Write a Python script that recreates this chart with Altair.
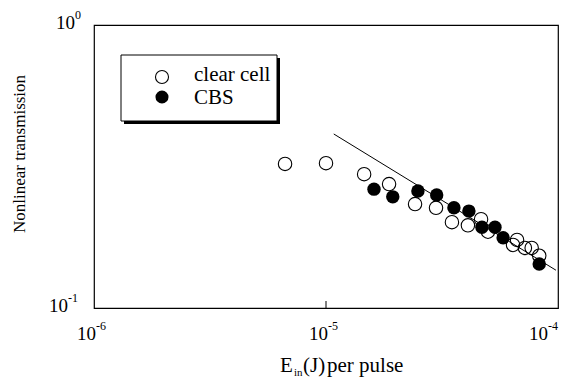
import altair as alt
import pandas as pd

# ---- data ----
clear_x = [6.66e-6, 1.0e-5, 1.46e-5, 1.87e-5, 2.42e-5, 2.98e-5, 3.49e-5, 4.09e-5,
           4.66e-5, 4.99e-5, 6.4e-5, 6.66e-5, 7.2e-5, 7.7e-5, 8.3e-5]
clear_y = [0.323, 0.325, 0.297, 0.274, 0.233, 0.226, 0.201, 0.196,
           0.206, 0.186, 0.167, 0.174, 0.163, 0.163, 0.153]
cbs_x = [1.61e-5, 1.94e-5, 2.49e-5, 3.0e-5, 3.56e-5, 4.13e-5, 4.7e-5, 5.35e-5, 5.8e-5, 8.3e-5]
cbs_y = [0.263, 0.247, 0.259, 0.251, 0.226, 0.220, 0.193, 0.193, 0.177, 0.143]
fit_x = [1.08e-5, 9.8e-5]
fit_y = [0.412, 0.136]

x_ticks = [1e-6, 1e-5, 1e-4]
x_exps = ["-6", "-5", "-4"]
y_ticks = [1.0, 0.1]
y_exps = ["0", "-1"]
tick_base = "10"
series_names = ["clear cell", "CBS"]
x_title_parts = ["E", "in", "(J)", "per pulse"]
y_title = "Nonlinear transmission"

W, H = 464, 283
FONT = "Liberation Serif"

xs = alt.Scale(type="log", domain=[1e-6, 1e-4], nice=False)
ys = alt.Scale(type="log", domain=[0.1, 1], nice=False)


def X(f):
    return alt.X(f"{f}:Q", scale=xs, axis=None)


def Y(f):
    return alt.Y(f"{f}:Q", scale=ys, axis=None)


clear = pd.DataFrame({"x": clear_x, "y": clear_y})
cbs = pd.DataFrame({"x": cbs_x, "y": cbs_y})
fit = pd.DataFrame({"x": fit_x, "y": fit_y})
xl = pd.DataFrame({"v": x_ticks, "e": x_exps, "b": [tick_base] * len(x_ticks)})
yl = pd.DataFrame({"v": y_ticks, "e": y_exps, "b": [tick_base] * len(y_ticks)})
one = pd.DataFrame({"k": [0]})
leg = pd.DataFrame({"name": series_names})

layers = []

# fitted power-law line
layers.append(alt.Chart(fit).mark_line(color="black", strokeWidth=1).encode(x=X("x"), y=Y("y")))

# open circles (clear cell)
layers.append(alt.Chart(clear).mark_point(shape="circle", filled=False, size=180,
                                          color="black", strokeWidth=1.1, opacity=1)
              .encode(x=X("x"), y=Y("y")))
# filled circles (CBS)
layers.append(alt.Chart(cbs).mark_circle(size=180, color="black", opacity=1)
              .encode(x=X("x"), y=Y("y")))

# tick mark at 10^-5 on the bottom axis
layers.append(alt.Chart(xl).transform_filter("datum.v > 5e-6 && datum.v < 5e-5")
              .mark_rule(color="black", strokeWidth=1)
              .encode(x=X("v"), y=alt.value(H), y2=alt.value(H - 7)))

# x tick labels (10 with superscript exponent)
for flt, dx in [("datum.v < 5e-5", 2), ("datum.v >= 5e-5", -10)]:
    base = alt.Chart(xl).transform_filter(flt)
    layers.append(base.mark_text(align="right", baseline="alphabetic", dx=dx, fontSize=19,
                                 font=FONT, color="black")
                  .encode(x=X("v"), y=alt.value(315), text="b:N"))
    layers.append(base.mark_text(align="left", baseline="alphabetic", dx=dx, fontSize=12,
                                 font=FONT, color="black")
                  .encode(x=X("v"), y=alt.value(305), text="e:N"))

# y tick labels
for flt, xpos in [("datum.v > 0.5", -19), ("datum.v < 0.5", -26)]:
    base = alt.Chart(yl).transform_filter(flt)
    layers.append(base.mark_text(align="right", baseline="alphabetic", dy=4, fontSize=19,
                                 font=FONT, color="black")
                  .encode(x=alt.value(xpos), y=Y("v"), text="b:N"))
    layers.append(base.mark_text(align="left", baseline="alphabetic", dy=-6, fontSize=12,
                                 font=FONT, color="black")
                  .encode(x=alt.value(xpos), y=Y("v"), text="e:N"))

# y title
layers.append(alt.Chart(one).mark_text(angle=270, fontSize=17, font=FONT, align="center",
                                       baseline="middle", color="black")
              .encode(x=alt.value(-74), y=alt.value(129), text=alt.value(y_title)))

# x title pieces: E, subscript "in", (J), per pulse
for txt, xpos, ypos, fs in [(x_title_parts[0], 186, 347, 21), (x_title_parts[1], 200, 351, 11),
                            (x_title_parts[2], 209, 347, 21), (x_title_parts[3], 233, 347, 21)]:
    layers.append(alt.Chart(one).mark_text(align="left", baseline="alphabetic", fontSize=fs,
                                           font=FONT, color="black")
                  .encode(x=alt.value(xpos), y=alt.value(ypos), text=alt.value(txt)))

# legend box with drop shadow
layers.append(alt.Chart(one).mark_rect(color="black")
              .encode(x=alt.value(30), x2=alt.value(186), y=alt.value(33), y2=alt.value(99)))
layers.append(alt.Chart(one).mark_rect(fill="white", stroke="black", strokeWidth=1)
              .encode(x=alt.value(27), x2=alt.value(183), y=alt.value(30), y2=alt.value(96)))
layers.append(alt.Chart(leg).transform_filter(f"datum.name == '{series_names[0]}'")
              .mark_point(shape="circle", filled=False, size=170, color="black", strokeWidth=1.1, opacity=1)
              .encode(x=alt.value(68), y=alt.value(52)))
layers.append(alt.Chart(leg).transform_filter(f"datum.name == '{series_names[1]}'")
              .mark_circle(size=170, color="black", opacity=1)
              .encode(x=alt.value(68), y=alt.value(72)))
for i, ypos in enumerate([56, 79]):
    layers.append(alt.Chart(leg).transform_filter(f"datum.name == '{series_names[i]}'")
                  .mark_text(align="left", baseline="alphabetic", fontSize=21, font=FONT, color="black")
                  .encode(x=alt.value(100), y=alt.value(ypos), text="name:N"))

chart = alt.layer(*layers).properties(
    width=W, height=H,
    autosize=alt.AutoSizeParams(type="none"),
    padding={"left": 86, "top": 17, "right": 11, "bottom": 75},
    background="white",
).configure_view(stroke="black", strokeWidth=1.2)

chart.save("out.html", embed_options={"renderer": "svg", "actions": False})
